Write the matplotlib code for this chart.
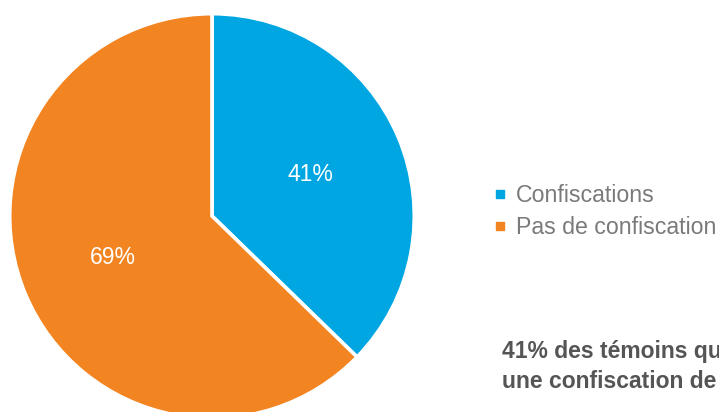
import matplotlib
matplotlib.use("Agg")
import matplotlib.pyplot as plt
from matplotlib.lines import Line2D

categories = ["Confiscations", "Pas de confiscation"]
values = [41, 69]
colors = ["#00A6E2", "#F28522"]
note_lines = ["41% des témoins qui", "une confiscation de"]

plt.rcParams['font.family'] = ['Liberation Sans', 'DejaVu Sans']

W, H = 719, 412
fig = plt.figure(figsize=(W / 100, H / 100), dpi=100)

cx, cy, r = 212, 216, 201
ax = fig.add_axes([(cx - r) / W, (H - cy - r) / H, 2 * r / W, 2 * r / H])

total = sum(values)
wedges, texts, autotexts = ax.pie(
    values, colors=colors, startangle=90, counterclock=False,
    radius=1.0 + 1.3 / r,
    autopct=lambda p: f"{round(p * total / 100)}%", pctdistance=0.53,
    wedgeprops=dict(edgecolor='white', linewidth=2.6),
    textprops=dict(color='white', fontsize=16.5))
ax.set_xlim(-1, 1)
ax.set_ylim(-1, 1)
ax.set_aspect('equal')
ax.axis('off')

handles = [Line2D([], [], marker='s', linestyle='none', markersize=5.5,
                  markerfacecolor=c, markeredgecolor=c) for c in colors]
fig.legend(handles, categories, loc='upper left',
           bbox_to_anchor=(494 / W, 1 - 184 / H), frameon=False,
           fontsize=16.7, labelcolor='#7a7a7a', handlelength=0.5,
           handletextpad=0.45, labelspacing=0.38, borderpad=0,
           borderaxespad=0)

fig.text(502 / W, 1 - 358 / H, note_lines[0], fontsize=16.5, fontweight='bold',
         color='#555555', va='baseline', ha='left')
fig.text(502 / W, 1 - 388 / H, note_lines[1], fontsize=16.5, fontweight='bold',
         color='#555555', va='baseline', ha='left')

fig.savefig("out.png", dpi=100, facecolor='white')
